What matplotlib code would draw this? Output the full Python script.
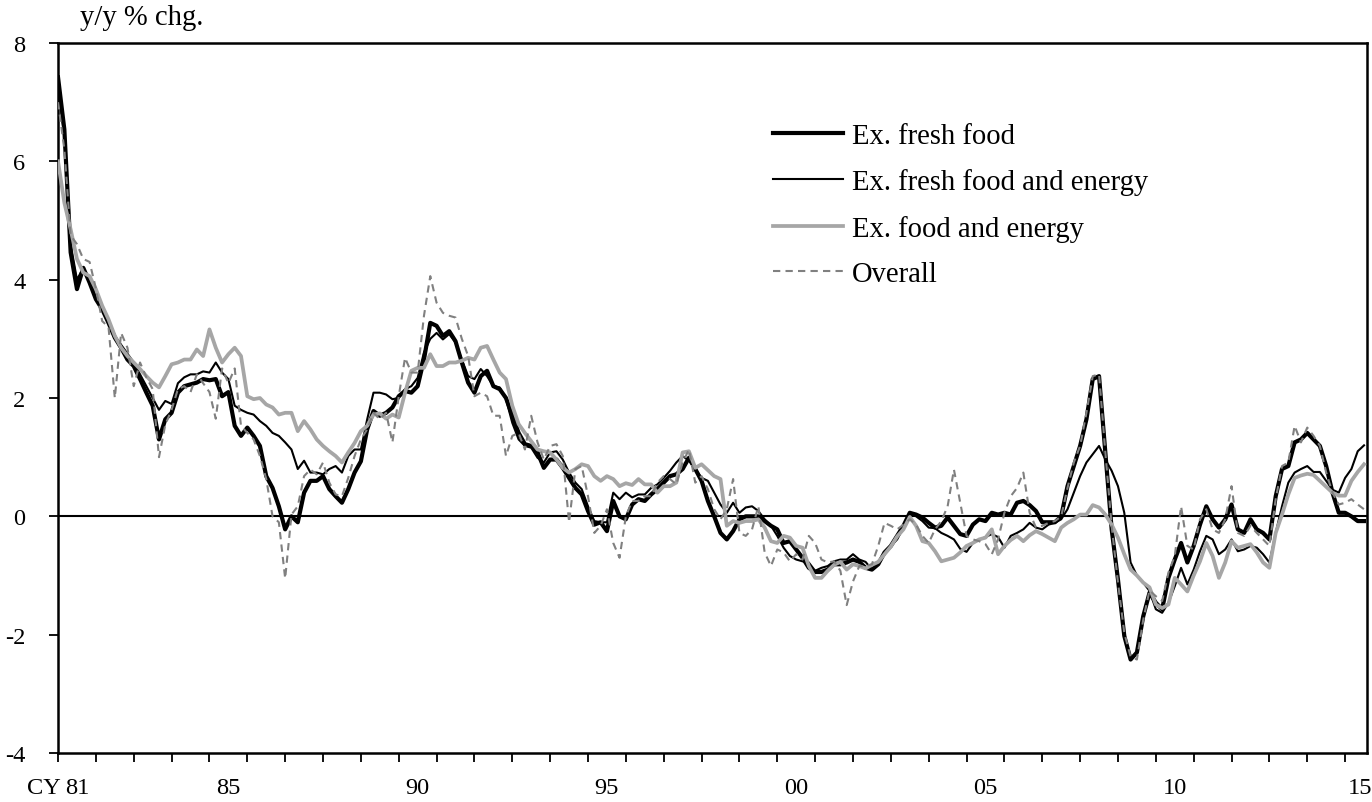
import numpy as np
import matplotlib
matplotlib.use("Agg")
import matplotlib.pyplot as plt

plt.rcParams['font.family'] = ['Liberation Serif', 'DejaVu Serif']
plt.rcParams['axes.unicode_minus'] = False

# y/y % change, every other month from Jan 1981 (Jan, Mar, May, Jul, Sep, Nov)
ex_fresh_food = [
    7.42, 6.54, 4.46, 3.84, 4.2, 3.95,
    3.67, 3.5, 3.27, 3.02, 2.85, 2.65,
    2.54, 2.32, 2.09, 1.87, 1.3, 1.64,
    1.75, 2.09, 2.2, 2.23, 2.26, 2.32,
    2.3, 2.32, 2.03, 2.1, 1.53, 1.36,
    1.5, 1.36, 1.19, 0.68, 0.48, 0.17,
    -0.22, 0.0, -0.1, 0.4, 0.6, 0.6,
    0.68, 0.46, 0.34, 0.23, 0.46, 0.74,
    0.93, 1.47, 1.78, 1.7, 1.75, 1.84,
    2.03, 2.12, 2.09, 2.2, 2.65, 3.27,
    3.22, 3.05, 3.13, 2.96, 2.6, 2.26,
    2.09, 2.37, 2.46, 2.2, 2.15, 2.0,
    1.7, 1.41, 1.22, 1.19, 1.08, 0.82,
    0.96, 0.96, 0.82, 0.65, 0.48, 0.37,
    0.09, -0.14, -0.1, -0.25, 0.26, 0.0,
    -0.05, 0.2, 0.29, 0.26, 0.37, 0.46,
    0.57, 0.68, 0.71, 0.8, 0.99, 0.8,
    0.6, 0.26, 0.0, -0.28, -0.39, -0.25,
    -0.05, 0.0, 0.0, 0.0, -0.08, -0.16,
    -0.22, -0.45, -0.42, -0.56, -0.7, -0.87,
    -0.94, -0.94, -0.9, -0.81, -0.81, -0.78,
    -0.73, -0.77, -0.87, -0.9, -0.81, -0.61,
    -0.5, -0.33, -0.16, 0.06, 0.03, -0.02,
    -0.11, -0.19, -0.16, -0.02, -0.16, -0.3,
    -0.33, -0.14, -0.05, -0.08, 0.06, 0.03,
    0.06, 0.03, 0.23, 0.26, 0.19, 0.09,
    -0.1, -0.1, -0.1, 0.0, 0.51, 0.85,
    1.19, 1.64, 2.32, 2.37, 1.08, -0.22,
    -1.07, -2.02, -2.42, -2.3, -1.69, -1.29,
    -1.46, -1.57, -1.04, -0.73, -0.45, -0.78,
    -0.5, -0.14, 0.17, -0.05, -0.19, -0.05,
    0.2, -0.22, -0.28, -0.05, -0.22, -0.28,
    -0.39, 0.34, 0.8, 0.85, 1.25, 1.3,
    1.41, 1.3, 1.19, 0.85, 0.4, 0.06,
    0.06, 0.0, -0.08, -0.08,
]

ex_fresh_food_energy = [
    7.3, 6.4, 4.6, 4.0, 4.2, 4.0,
    3.7, 3.5, 3.3, 3.05, 2.9, 2.75,
    2.6, 2.4, 2.2, 2.0, 1.8, 1.95,
    1.9, 2.25, 2.35, 2.4, 2.4, 2.45,
    2.43, 2.6, 2.43, 2.32, 1.87, 1.8,
    1.75, 1.72, 1.61, 1.53, 1.41, 1.36,
    1.25, 1.13, 0.8, 0.94, 0.74, 0.74,
    0.71, 0.8, 0.85, 0.74, 1.02, 1.13,
    1.13, 1.64, 2.09, 2.09, 2.06, 1.98,
    2.0, 2.15, 2.2, 2.34, 2.77, 3.0,
    3.1, 2.99, 3.08, 2.94, 2.65, 2.37,
    2.32, 2.49, 2.37, 2.2, 2.18, 1.98,
    1.58, 1.3, 1.19, 1.16, 0.99, 0.91,
    1.08, 1.1, 0.96, 0.74, 0.57, 0.46,
    0.17, -0.08, -0.1, -0.1, 0.4, 0.29,
    0.4, 0.32, 0.37, 0.37, 0.48, 0.54,
    0.65, 0.77, 0.91, 1.02, 0.94, 0.8,
    0.65, 0.6, 0.4, 0.2, 0.06, 0.23,
    0.06, 0.15, 0.17, 0.09, -0.05, -0.16,
    -0.33, -0.53, -0.67, -0.73, -0.76, -0.78,
    -0.92, -0.87, -0.84, -0.76, -0.73, -0.73,
    -0.64, -0.73, -0.77, -0.9, -0.81, -0.64,
    -0.5, -0.39, -0.19, 0.06, 0.0, -0.08,
    -0.19, -0.2, -0.28, -0.33, -0.39, -0.55,
    -0.6, -0.45, -0.4, -0.35, -0.3, -0.35,
    -0.53, -0.33, -0.28, -0.22, -0.11, -0.19,
    -0.22, -0.14, -0.11, -0.05, 0.12, 0.4,
    0.68, 0.91, 1.05, 1.19, 0.96, 0.77,
    0.51, 0.06, -0.78, -1.0, -1.12, -1.26,
    -1.57, -1.63, -1.46, -1.18, -0.87, -1.15,
    -0.9, -0.59, -0.33, -0.39, -0.64, -0.56,
    -0.39, -0.59, -0.56, -0.5, -0.53, -0.64,
    -0.78, -0.28, 0.17, 0.57, 0.74, 0.8,
    0.85, 0.75, 0.75, 0.6, 0.45, 0.4,
    0.65, 0.8, 1.1, 1.2,
]

ex_food_energy = [
    6.0, 5.3, 4.85, 4.35, 4.12, 4.06,
    3.84, 3.56, 3.33, 3.05, 2.85, 2.71,
    2.6, 2.49, 2.37, 2.26, 2.18, 2.37,
    2.57, 2.6, 2.65, 2.65, 2.82, 2.71,
    3.16, 2.85, 2.6, 2.74, 2.85, 2.71,
    2.03, 1.98, 2.0, 1.89, 1.84, 1.72,
    1.75, 1.75, 1.44, 1.61, 1.47, 1.3,
    1.19, 1.1, 1.02, 0.91, 1.08, 1.24,
    1.44, 1.53, 1.72, 1.74, 1.65, 1.72,
    1.67, 2.09, 2.46, 2.51, 2.51, 2.74,
    2.54, 2.54, 2.6, 2.6, 2.63, 2.68,
    2.65, 2.85, 2.88, 2.65, 2.43, 2.32,
    1.87, 1.56, 1.41, 1.27, 1.13, 1.1,
    1.08, 0.96, 0.82, 0.74, 0.8, 0.88,
    0.85, 0.68, 0.6, 0.68, 0.63, 0.51,
    0.56, 0.53, 0.63, 0.54, 0.54, 0.4,
    0.51, 0.51, 0.57, 1.08, 1.1, 0.82,
    0.88, 0.78, 0.68, 0.63, -0.16, -0.08,
    -0.11, -0.08, -0.08, -0.05, -0.19, -0.42,
    -0.45, -0.33, -0.36, -0.5, -0.53, -0.84,
    -1.04, -1.04, -0.92, -0.82, -0.77, -0.9,
    -0.81, -0.84, -0.88, -0.82, -0.77, -0.64,
    -0.51, -0.34, -0.22, -0.01, -0.16, -0.42,
    -0.45, -0.59, -0.76, -0.73, -0.7, -0.61,
    -0.5, -0.45, -0.39, -0.36, -0.22, -0.64,
    -0.5, -0.4, -0.33, -0.42, -0.32, -0.25,
    -0.3, -0.36, -0.42, -0.19, -0.11, -0.05,
    0.03, 0.03, 0.19, 0.15, 0.03, -0.14,
    -0.36, -0.64, -0.9, -1.0, -1.12, -1.2,
    -1.49, -1.55, -1.49, -1.04, -1.15, -1.27,
    -1.0, -0.76, -0.45, -0.67, -1.04, -0.78,
    -0.42, -0.53, -0.5, -0.47, -0.61, -0.78,
    -0.87, -0.28, 0.03, 0.37, 0.65, 0.69,
    0.72, 0.7, 0.6, 0.5, 0.4, 0.35,
    0.35, 0.6, 0.75, 0.88,
]

overall = [
    7.0, 6.2, 4.75, 4.6, 4.35, 4.3,
    3.85, 3.3, 3.2, 2.0, 3.1, 2.85,
    2.2, 2.6, 2.35, 2.15, 1.0, 1.55,
    1.8, 2.15, 2.2, 2.1, 2.4, 2.25,
    2.1, 1.65, 2.5, 2.25, 2.5, 1.53,
    1.41, 1.3, 1.02, 0.63, 0.0, -0.1,
    -1.05, 0.03, 0.17, 0.68, 0.79, 0.71,
    0.91, 0.57, 0.37, 0.34, 0.65, 1.02,
    1.3, 1.47, 1.75, 1.64, 1.75, 1.25,
    2.03, 2.68, 2.43, 2.43, 3.39, 4.06,
    3.61, 3.44, 3.39, 3.36, 3.0, 2.71,
    2.03, 2.09, 2.03, 1.7, 1.7, 1.02,
    1.36, 1.41, 1.13, 1.7, 1.25, 0.96,
    1.19, 1.22, 1.02, -0.1, 0.8, 0.85,
    0.34, -0.28, -0.16, 0.12, -0.45, -0.7,
    0.0, 0.26, 0.26, 0.34, 0.34, 0.57,
    0.68, 0.63, 0.54, 0.91, 1.13, 0.57,
    0.68, 0.46, 0.12, -0.05, 0.12, 0.63,
    -0.28, -0.33, -0.22, 0.17, -0.61, -0.84,
    -0.56, -0.61, -0.76, -0.64, -0.73, -0.33,
    -0.45, -0.73, -0.78, -0.76, -0.92, -1.5,
    -1.1, -0.84, -0.84, -0.81, -0.5, -0.11,
    -0.16, -0.22, -0.14, -0.05, -0.14, -0.33,
    -0.45, -0.22, -0.08, 0.17, 0.79, 0.23,
    -0.33, -0.39, -0.42, -0.47, -0.64, -0.39,
    0.06, 0.34, 0.48, 0.74, 0.06, -0.19,
    -0.16, -0.11, -0.08, 0.0, 0.48, 0.91,
    1.19, 1.75, 2.37, 2.4, 1.08, -0.16,
    -1.12, -1.97, -2.37, -2.42, -1.75, -1.25,
    -1.35, -1.43, -0.95, -0.67, 0.17, -0.5,
    -0.56, -0.05, 0.12, -0.22, -0.28, -0.05,
    0.51, -0.28, -0.33, -0.16, -0.28, -0.39,
    -0.5, 0.29, 0.85, 0.91, 1.53, 1.25,
    1.5, 1.36, 1.19, 0.74, 0.4, 0.2,
    0.23, 0.29, 0.2, 0.12,
]

tick_years = list(range(1981, 2016))
label_pos = [1981.5, 1985.5, 1990.5, 1995.5, 2000.5, 2005.5, 2010.5, 2015.4]
label_text = ['81', '85', '90', '95', '00', '05', '10', '15']

t = 1981 + np.arange(len(ex_fresh_food)) / 6.0

fig = plt.figure(figsize=(13.72, 8.03), dpi=100)
ax = fig.add_axes([0.0423, 0.0610, 0.9541, 0.8842])

ax.axhline(0, color='black', lw=1.5, zorder=1)
ax.plot(t, ex_fresh_food, color='black', lw=3.0, label='Ex. fresh food', zorder=2)
ax.plot(t, ex_fresh_food_energy, color='black', lw=1.5,
        label='Ex. fresh food and energy', zorder=3)
ax.plot(t, ex_food_energy, color='#a6a6a6', lw=2.7,
        label='Ex. food and energy', zorder=4)
ax.plot(t, overall, color='#808080', lw=1.5, dashes=(3.5, 2.5),
        label='Overall', zorder=5)

ax.set_xlim(1981, 2015.58)
ax.set_ylim(-4, 8)
ax.set_yticks(range(-4, 9, 2))
ax.set_xticks(tick_years)
ax.set_xticklabels([])
ax.set_xticks(label_pos, minor=True)
ax.set_xticklabels(label_text, minor=True)

ax.tick_params(axis='x', which='major', direction='out', length=6.5, width=1.3)
ax.tick_params(axis='x', which='minor', length=0, pad=17, labelsize=17.6)
ax.tick_params(axis='y', direction='out', length=6.5, width=1.3, pad=17,
               labelsize=17.6)
for side in ax.spines.values():
    side.set_linewidth(1.8)

# "CY" sits just left of the first year label, top-aligned with it
cy_top = 1 - (754 + 17 * 100 / 72) / 803
fig.text(61 / 1372, cy_top, 'CY', ha='right', va='top', fontsize=17.6)
fig.text(80 / 1372, 1 - 18 / 803, 'y/y % chg.', ha='left', va='center',
         fontsize=20.6)

ax.legend(loc='upper left', bbox_to_anchor=(773 / 1372, 1 - 124 / 803),
          bbox_transform=fig.transFigure, frameon=False, fontsize=20.6,
          handlelength=2.45, handletextpad=0.31, labelspacing=0.68,
          borderpad=0, borderaxespad=0)

fig.savefig('out.png', dpi=100)
